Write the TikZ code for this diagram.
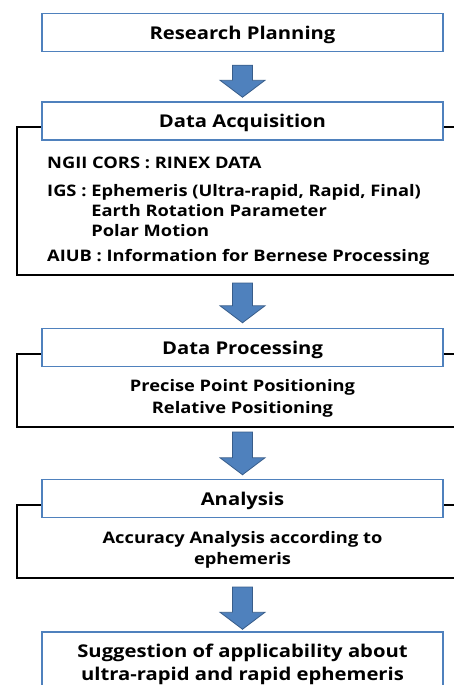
\documentclass[tikz,border=0pt]{standalone}
\usepackage{fontspec}
\setmainfont[FakeStretch=1.15]{Open Sans}
\usetikzlibrary{positioning, calc}
\definecolor{FlowBlue}{HTML}{4F81BD}
\definecolor{FlowBlueDark}{HTML}{385D8A}

\tikzset{
  stage/.style={draw=FlowBlue, line width=1.5pt, fill=white, minimum width=401pt, minimum height=38pt, inner sep=0pt, text height=17.4pt, text depth=3.6pt, font=\bfseries\fontsize{17.6}{23}\selectfont, align=center},
  frame/.style={draw=black, line width=2pt},
  body/.style={inner sep=0pt, font=\bfseries\fontsize{15.9}{20}\selectfont},
  blockarrow/.style={fill=FlowBlue, draw=FlowBlueDark, line width=0.8pt}
}

% block arrow: start point, end point (tip)
\newcommand{\flowarrow}[2]{%
  \path[blockarrow] let \p1=#1, \p2=#2 in
    (\x1-10pt,\y1) -- (\x1-10pt,\y2+17pt) -- (\x1-22.5pt,\y2+17pt) -- (\x1,\y2)
    -- (\x1+22.5pt,\y2+17pt) -- (\x1+10pt,\y2+17pt) -- (\x1+10pt,\y1) -- cycle;}

\begin{document}
\begin{tikzpicture}[x=1pt, y=1pt]
  \path[use as bounding box, clip] (0,0) rectangle (454,-685);

  % Frames
  \draw[frame] (17,-127) rectangle (470,-275);
  \draw[frame] (17,-354) rectangle (470,-427);
  \draw[frame] (17,-505) rectangle (470,-578);

  % Steps
  \node[stage] (rp) at (242.5,-32.5) {Research Planning};
  \node[stage] (da) at (242.5,-121) {Data Acquisition};
  \node[stage] (dp) at (242.5,-347.5) {Data Processing};
  \node[stage] (an) at (242.5,-498.5) {Analysis};
  \node[stage, text height={}, text depth={}, minimum height=65pt] (sg) at (242.5,-664.5) {Suggestion of applicability about\\ultra-rapid and rapid ephemeris};

  % Contents
  \node[body, anchor=west, align=left] (dabody) at (47,-211.5) {NGII CORS : RINEX DATA\\[8pt]
    IGS : Ephemeris (Ultra-rapid, Rapid, Final)\\
    \phantom{IGS : }Earth Rotation Parameter\\
    \phantom{IGS : }Polar Motion\\[5pt]
    AIUB : Information for Bernese Processing};
  \node[body, align=center, font=\bfseries\fontsize{15.9}{22}\selectfont] (dpbody) at (242.5,-398) {Precise Point Positioning\\Relative Positioning};
  \node[body, align=center, font=\bfseries\fontsize{15.9}{21}\selectfont] (anbody) at (242.5,-549.5) {Accuracy Analysis according to\\ephemeris};

  % Arrows
  \coordinate (f1) at (242.5,-275);
  \coordinate (f2) at (242.5,-427);
  \coordinate (f3) at (242.5,-578);
  \flowarrow{($(rp.south)+(0,-13)$)}{($(da.north)+(0,4)$)}
  \flowarrow{($(f1)+(0,-8)$)}{($(dp.north)+(0,5)$)}
  \flowarrow{($(f2)+(0,-5)$)}{($(an.north)+(0,4)$)}
  \flowarrow{($(f3)+(0,-9)$)}{($(sg.north)+(0,2)$)}
\end{tikzpicture}
\end{document}
